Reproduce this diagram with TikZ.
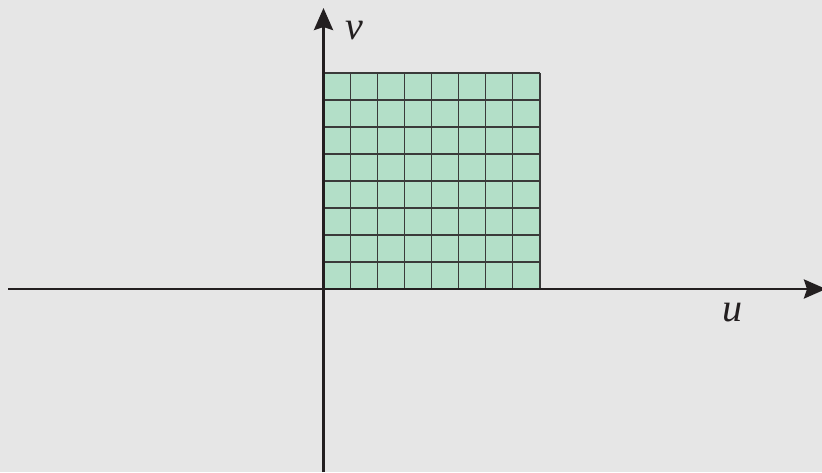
\documentclass[tikz,border=0pt]{standalone}
\usepackage{fontspec}
\setmainfont{Liberation Serif}
\newfontfamily\labfont{Liberation Serif}
\usetikzlibrary{arrows.meta}
\definecolor{bg}{HTML}{E6E6E6}
\definecolor{cellfill}{HTML}{B3DFC8}
\definecolor{gridline}{HTML}{3A3A3A}
\definecolor{axisline}{HTML}{231F20}
\tikzset{
  axis/.style={draw=axisline, line width=2.8pt, -{Stealth[length=22pt,width=19pt,inset=3pt]}},
  cellgrid/.style={draw=gridline, line width=1.2pt},
  axlabel/.style={font=\labfont\itshape\fontsize{40}{42}\selectfont, text=axisline, inner sep=0pt}
}
\begin{document}
\begin{tikzpicture}[x=1pt,y=-1pt]
\fill[bg] (0,0) rectangle (822,472);
\useasboundingbox (0,0) rectangle (822,472);
% grid
\fill[cellfill] (323,73) rectangle (540,289);
\foreach \i in {0,...,8} {
  \draw[cellgrid] ({323+\i*217/8},73) -- ({323+\i*217/8},289);
  \draw[cellgrid] (323,{73+\i*27}) -- (540,{73+\i*27});
}
% axes
\coordinate (xstart) at (8,289);
\coordinate (xend) at (826,289);
\coordinate (ystart) at (323.5,472);
\coordinate (yend) at (323.5,8);
\draw[axis] (xstart) -- (xend);
\draw[axis] (ystart) -- (yend);
\node[axlabel] (vlab) at (354,31) {v};
\node[axlabel] (ulab) at (732,313) {u};
\end{tikzpicture}
\end{document}
